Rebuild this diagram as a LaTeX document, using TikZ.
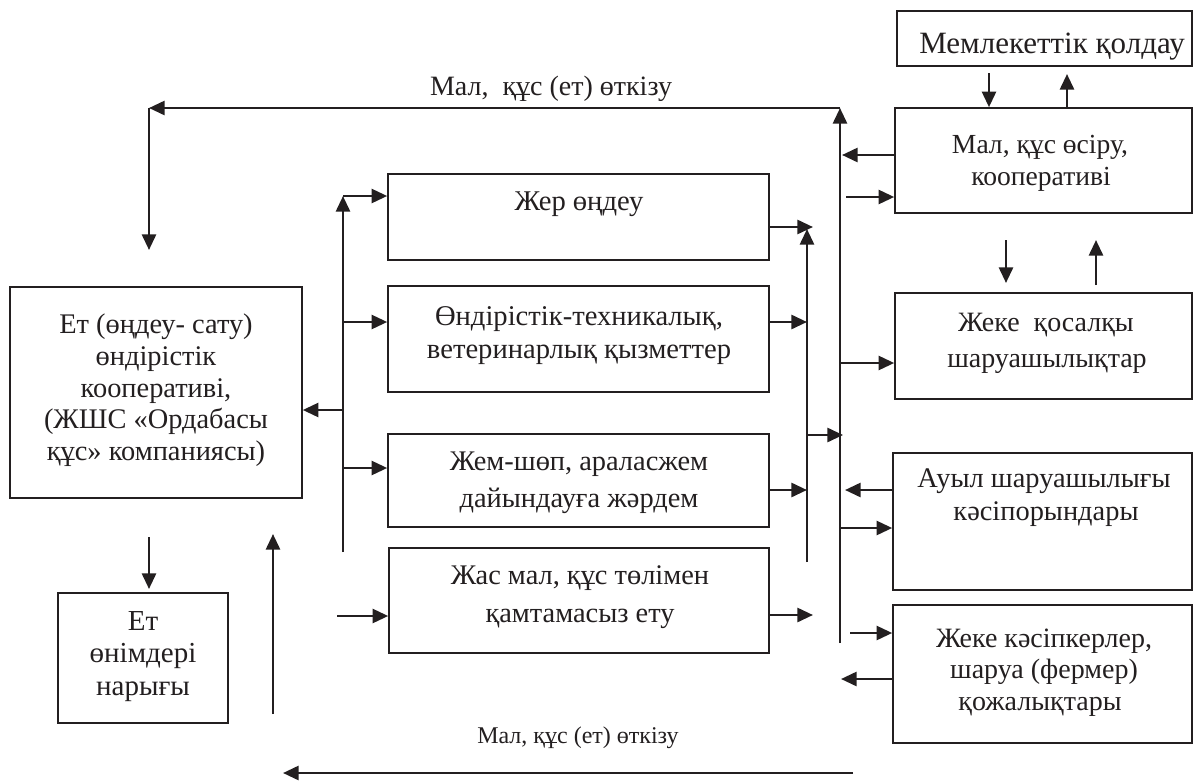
\documentclass[tikz,border=0pt]{standalone}
\usepackage{fontspec}
\setmainfont{Liberation Serif}
\usetikzlibrary{arrows.meta,fit}
\definecolor{ink}{RGB}{35,31,32}
\begin{document}
\begin{tikzpicture}[x=0.5pt,y=-0.5pt,
  box/.style={draw=ink, line width=0.8pt, inner sep=0pt},
  txt/.style={text=ink, font=\fontsize{#1}{#1}\selectfont, anchor=base, inner sep=0pt},
  txt/.default=14.3,
  arr/.style={draw=ink, line width=1.3pt, -{Triangle[length=7.8pt,width=7pt]}}]
\useasboundingbox[fill=white] (0,0) rectangle (1195,782);

% boxes
\node[box, fit={(897,11) (1192,66)}] (gov) {};
\node[box, fit={(895,108) (1192,213)}] (coop) {};
\node[box, fit={(895,293) (1192,399)}] (aux) {};
\node[box, fit={(893,453) (1192,590)}] (agri) {};
\node[box, fit={(893,605) (1192,743)}] (farm) {};
\node[box, fit={(388,174) (769,260)}] (land) {};
\node[box, fit={(388,286) (769,392)}] (tech) {};
\node[box, fit={(388,434) (769,527)}] (feed) {};
\node[box, fit={(389,548) (769,653)}] (young) {};
\node[box, fit={(10,287) (302,498)}] (meat) {};
\node[box, fit={(58,593) (228,723)}] (market) {};

% texts
\node[txt=15.5] (govt) at (1052,53) {Мемлекеттік қолдау};
\node[txt=13.8] (coopt1) at (1040,153) {Мал, құс өсіру,};
\node[txt=13.8] (coopt2) at (1041,185) {кооперативі};
\node[txt=14] (auxt1) at (1046,331) {Жеке~ қосалқы};
\node[txt=14] (auxt2) at (1047,367) {шаруашылықтар};
\node[txt=14.2] (agrit1) at (1044,487) {Ауыл шаруашылығы};
\node[txt=14.2] (agrit2) at (1046,520) {кәсіпорындары};
\node[txt=14] (farmt1) at (1044,647) {Жеке кәсіпкерлер,};
\node[txt=14] (farmt2) at (1044,678) {шаруа (фермер)};
\node[txt=14] (farmt3) at (1040,710) {қожалықтары};
\node[txt] (landt) at (579,210) {Жер өңдеу};
\node[txt] (techt1) at (579,325) {Өндірістік-техникалық,};
\node[txt] (techt2) at (579,358) {ветеринарлық қызметтер};
\node[txt=14.2] (feedt1) at (579,470) {Жем-шөп, араласжем};
\node[txt=14.2] (feedt2) at (579,507) {дайындауға жәрдем};
\node[txt=14.2] (youngt1) at (580,584) {Жас мал, құс төлімен};
\node[txt=14.2] (youngt2) at (580,622) {қамтамасыз ету};
\node[txt=14.2] (meatt1) at (156,333) {Ет (өңдеу- сату)};
\node[txt=14.2] (meatt2) at (156,365) {өндірістік};
\node[txt=14.2] (meatt3) at (156,397) {кооперативі,};
\node[txt=14.2] (meatt4) at (156,428) {(ЖШС «Ордабасы};
\node[txt=14.2] (meatt5) at (156,460) {құс» компаниясы)};
\node[txt=14.5] (markt1) at (143,630) {Ет};
\node[txt=14.5] (markt2) at (143,662) {өнімдері};
\node[txt=14.5] (markt3) at (143,695) {нарығы};
\node[txt=14] (toplbl) at (551,95) {Мал,~ құс (ет) өткізу};
\node[txt=12] (botlbl) at (578,743) {Мал, құс (ет) өткізу};

% coordinates
\coordinate (v1t) at (343,196); \coordinate (v1b) at (343,552);
\coordinate (t1) at (343,322); \coordinate (t2) at (343,410);
\coordinate (t3) at (343,468); \coordinate (t4) at (337,616);
\coordinate (v2t) at (807,229); \coordinate (v2b) at (807,562);
\coordinate (m1) at (813,227); \coordinate (m2) at (807,322);
\coordinate (m3) at (807,490); \coordinate (m4) at (813,615);
\coordinate (m5a) at (807,435); \coordinate (m5b) at (843,435);
\coordinate (v3t) at (840,108); \coordinate (v3b) at (840,643);
\coordinate (tl) at (149,108); \coordinate (tld) at (149,250);
\coordinate (c1) at (842,155); \coordinate (c2) at (846,197);
\coordinate (g1) at (989,73); \coordinate (g2) at (1067,74);
\coordinate (d1a) at (1006,240); \coordinate (d1b) at (1006,283);
\coordinate (u1a) at (1096,285); \coordinate (u1b) at (1096,240);
\coordinate (a1) at (840,363);
\coordinate (ag1) at (845,490); \coordinate (ag2) at (840,528);
\coordinate (f1) at (850,633); \coordinate (f2) at (841,679);
\coordinate (b1) at (853,773); \coordinate (b2) at (283,773);
\coordinate (e1) at (149,537); \coordinate (e2) at (149,589);
\coordinate (u2a) at (273,714); \coordinate (u2b) at (273,534);

% left distribution line
\draw[arr] (v1b) -- (v1t);
\draw[arr] (v1t) -- (land.west |- v1t);
\draw[arr] (t1) -- (tech.west |- t1);
\draw[arr] (t2) -- (meat.east |- t2);
\draw[arr] (t3) -- (feed.west |- t3);
\draw[arr] (t4) -- (young.west |- t4);

% middle collection line
\draw[arr] (v2b) -- (v2t);
\draw[arr] (land.east |- m1) -- (m1);
\draw[arr] (tech.east |- m2) -- (m2);
\draw[arr] (feed.east |- m3) -- (m3);
\draw[arr] (young.east |- m4) -- (m4);
\draw[arr] (m5a) -- (m5b);

% right line and top return
\draw[arr] (v3b) -- (v3t);
\draw[arr] (v3t) -- (tl);
\draw[arr] (tl) -- (tld);

% right boxes
\draw[arr] (g1) -- (coop.north -| g1);
\draw[arr] (coop.north -| g2) -- (g2);
\draw[arr] (coop.west |- c1) -- (c1);
\draw[arr] (c2) -- (coop.west |- c2);
\draw[arr] (d1a) -- (d1b);
\draw[arr] (u1a) -- (u1b);
\draw[arr] (a1) -- (aux.west |- a1);
\draw[arr] (agri.west |- ag1) -- (ag1);
\draw[arr] (ag2) -- (agri.west |- ag2);
\draw[arr] (f1) -- (farm.west |- f1);
\draw[arr] (farm.west |- f2) -- (f2);

% bottom
\draw[arr] (b1) -- (b2);
\draw[arr] (e1) -- (e2);
\draw[arr] (u2a) -- (u2b);
\end{tikzpicture}
\end{document}
